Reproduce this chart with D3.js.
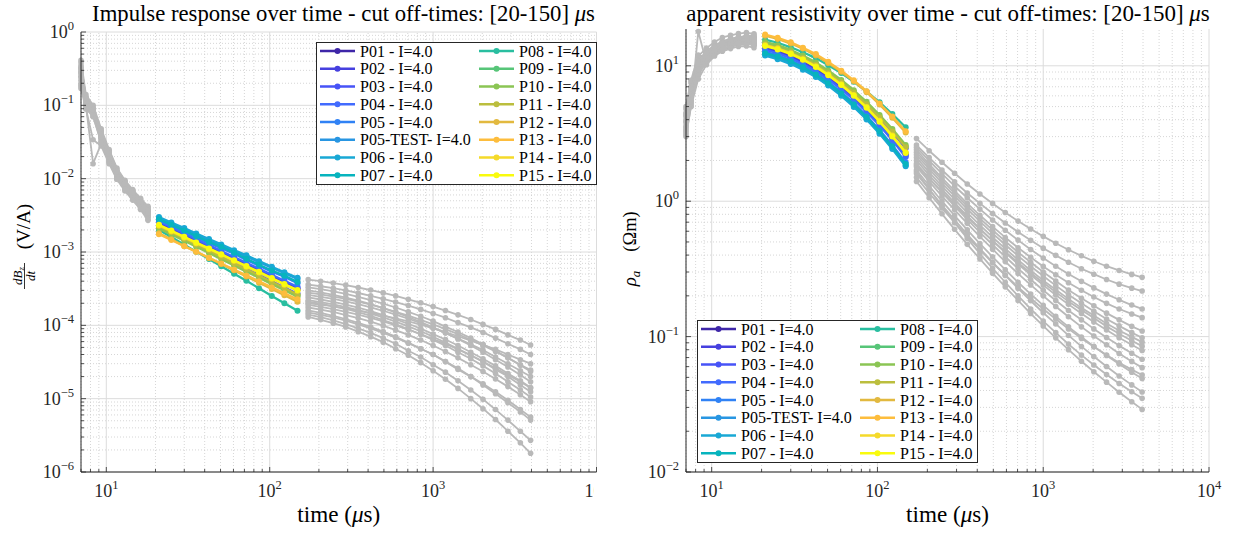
<!DOCTYPE html>
<html>
<head>
<meta charset="utf-8">
<script src="https://cdn.jsdelivr.net/npm/d3@7"></script>
<style>
  body { margin: 0; background: #fff; }
  svg { display: block; font-family: "Liberation Serif", "DejaVu Serif", serif; }
</style>
</head>
<body>
<svg id="fig" width="1233" height="534"></svg>
<script>
// TEM soundings P01..P15 - impulse response and apparent resistivity,
// coloured inside the cut-off window [20-150] us, grey outside it.

var seriesNames = ['P01 - I=4.0', 'P02 - I=4.0', 'P03 - I=4.0', 'P04 - I=4.0', 'P05 - I=4.0',
    'P05-TEST- I=4.0', 'P06 - I=4.0', 'P07 - I=4.0', 'P08 - I=4.0', 'P09 - I=4.0',
    'P10 - I=4.0', 'P11 - I=4.0', 'P12 - I=4.0', 'P13 - I=4.0', 'P14 - I=4.0', 'P15 - I=4.0'];

var palette = ['#3e26a8', '#4640df', '#4753f7', '#426bfe', '#3082f5', '#2896e2', '#19a8d5', '#07b4be',
    '#29bea0', '#57c578', '#8bc554', '#bbbe3e', '#e2b93f', '#fdbd3d', '#f5da2a', '#f9fb0e'];

// gate times (us)
var tEarly = [7, 7.5, 8.3, 9.3, 10.4, 11.6, 13, 14.5, 16.2, 18];
var tMid = [21, 25, 30, 35.5, 42.5, 50.5, 60.5, 72, 86, 103, 123, 148];
var tLate = [172, 205, 245, 292, 348, 415, 495, 590, 705, 840, 1000, 1190, 1420, 1700, 2020, 2410, 2870, 3420, 3950];

// dBz/dt (V/A), one row per sounding
var dbdtEarly = [
    [0.38, 0.12, 0.09, 0.042, 0.022, 0.0125, 0.0088, 0.0066, 0.0049, 0.0037],
    [0.25, 0.11, 0.08, 0.036, 0.019, 0.011, 0.0078, 0.0058, 0.0044, 0.0033],
    [0.33, 0.13, 0.095, 0.045, 0.024, 0.0135, 0.0092, 0.0069, 0.0052, 0.0040],
    [0.18, 0.10, 0.016, 0.030, 0.017, 0.0105, 0.0074, 0.0055, 0.0041, 0.0031],
    [0.29, 0.12, 0.085, 0.040, 0.021, 0.012, 0.0084, 0.0063, 0.0047, 0.0036],
    [0.41, 0.14, 0.10, 0.048, 0.025, 0.014, 0.0095, 0.0071, 0.0054, 0.0042],
    [0.35, 0.13, 0.09, 0.044, 0.023, 0.013, 0.009, 0.0068, 0.0051, 0.0039],
    [0.22, 0.10, 0.075, 0.034, 0.019, 0.011, 0.0079, 0.0059, 0.0044, 0.0034],
    [0.17, 0.09, 0.07, 0.032, 0.018, 0.0105, 0.0075, 0.0056, 0.0041, 0.0030],
    [0.27, 0.11, 0.08, 0.038, 0.020, 0.0115, 0.0081, 0.006, 0.0045, 0.0034],
    [0.31, 0.12, 0.083, 0.039, 0.021, 0.012, 0.0083, 0.0062, 0.0046, 0.0035],
    [0.20, 0.10, 0.078, 0.035, 0.019, 0.011, 0.0078, 0.0057, 0.0042, 0.0031],
    [0.24, 0.09, 0.034, 0.028, 0.016, 0.0098, 0.0068, 0.0051, 0.0038, 0.0027],
    [0.19, 0.095, 0.072, 0.031, 0.017, 0.010, 0.0071, 0.0053, 0.0039, 0.0028],
    [0.28, 0.115, 0.082, 0.037, 0.020, 0.0115, 0.008, 0.006, 0.0045, 0.0034],
    [0.32, 0.125, 0.088, 0.041, 0.022, 0.0125, 0.0086, 0.0064, 0.0048, 0.0037]
];
var dbdtMid = [
    [2.4e-3, 2.0e-3, 1.65e-3, 1.38e-3, 1.14e-3, 9.55e-4, 7.9e-4, 6.6e-4, 5.5e-4, 4.5e-4, 3.75e-4, 3.1e-4],
    [2.5e-3, 2.08e-3, 1.72e-3, 1.44e-3, 1.19e-3, 1.0e-3, 8.2e-4, 6.85e-4, 5.7e-4, 4.7e-4, 3.9e-4, 3.2e-4],
    [2.3e-3, 1.9e-3, 1.55e-3, 1.29e-3, 1.06e-3, 8.76e-4, 7.18e-4, 5.93e-4, 4.88e-4, 4.0e-4, 3.29e-4, 2.7e-4],
    [2.6e-3, 2.17e-3, 1.79e-3, 1.5e-3, 1.24e-3, 1.03e-3, 8.55e-4, 7.12e-4, 5.93e-4, 4.89e-4, 4.06e-4, 3.35e-4],
    [2.7e-3, 2.27e-3, 1.89e-3, 1.59e-3, 1.32e-3, 1.13e-3, 9.45e-4, 7.8e-4, 6.5e-4, 5.4e-4, 4.6e-4, 3.75e-4],
    [2.9e-3, 2.44e-3, 2.04e-3, 1.73e-3, 1.45e-3, 1.23e-3, 1.03e-3, 8.67e-4, 7.28e-4, 6.1e-4, 5.13e-4, 4.3e-4],
    [3.0e-3, 2.53e-3, 2.12e-3, 1.79e-3, 1.5e-3, 1.27e-3, 1.06e-3, 9.0e-4, 7.5e-4, 6.3e-4, 5.3e-4, 4.44e-4],
    [2.8e-3, 2.35e-3, 1.96e-3, 1.65e-3, 1.37e-3, 1.18e-3, 9.8e-4, 8.1e-4, 6.7e-4, 5.6e-4, 4.76e-4, 3.9e-4],
    [2.0e-3, 1.6e-3, 1.26e-3, 1.01e-3, 8.0e-4, 6.4e-4, 5.06e-4, 4.04e-4, 3.2e-4, 2.52e-4, 2.0e-4, 1.58e-4],
    [2.2e-3, 1.82e-3, 1.49e-3, 1.23e-3, 1.01e-3, 8.4e-4, 6.86e-4, 5.68e-4, 4.66e-4, 3.83e-4, 3.15e-4, 2.57e-4],
    [2.1e-3, 1.73e-3, 1.42e-3, 1.18e-3, 9.7e-4, 8.0e-4, 6.55e-4, 5.4e-4, 4.45e-4, 3.65e-4, 3.0e-4, 2.46e-4],
    [2.25e-3, 1.86e-3, 1.52e-3, 1.26e-3, 1.04e-3, 8.57e-4, 7.02e-4, 5.8e-4, 4.77e-4, 3.92e-4, 3.22e-4, 2.63e-4],
    [1.8e-3, 1.49e-3, 1.21e-3, 1.01e-3, 8.3e-4, 6.86e-4, 5.62e-4, 4.64e-4, 3.82e-4, 3.13e-4, 2.57e-4, 2.1e-4],
    [1.75e-3, 1.46e-3, 1.2e-3, 1.01e-3, 8.35e-4, 6.97e-4, 5.76e-4, 4.8e-4, 4.0e-4, 3.29e-4, 2.73e-4, 2.26e-4],
    [2.3e-3, 1.92e-3, 1.58e-3, 1.32e-3, 1.1e-3, 9.15e-4, 7.57e-4, 6.3e-4, 5.24e-4, 4.32e-4, 3.59e-4, 2.97e-4],
    [2.35e-3, 1.96e-3, 1.61e-3, 1.35e-3, 1.12e-3, 9.35e-4, 7.73e-4, 6.44e-4, 5.36e-4, 4.42e-4, 3.67e-4, 3.03e-4]
];
var dbdtLate = [
    [2.4e-4, 2.25e-4, 2.09e-4, 1.92e-4, 1.74e-4, 1.56e-4, 1.38e-4, 1.21e-4, 1.05e-4, 9.0e-5, 7.6e-5, 6.4e-5, 5.3e-5, 4.3e-5, 3.5e-5, 2.8e-5, 2.2e-5, 1.75e-5, 1.42e-5],
    [2.6e-4, 2.45e-4, 2.29e-4, 2.12e-4, 1.94e-4, 1.76e-4, 1.58e-4, 1.4e-4, 1.23e-4, 1.07e-4, 9.2e-5, 7.9e-5, 6.6e-5, 5.5e-5, 4.6e-5, 3.7e-5, 3.0e-5, 2.4e-5, 2.0e-5],
    [2.0e-4, 1.91e-4, 1.81e-4, 1.7e-4, 1.59e-4, 1.48e-4, 1.36e-4, 1.24e-4, 1.13e-4, 1.02e-4, 9.1e-5, 8.1e-5, 7.1e-5, 6.2e-5, 5.4e-5, 4.7e-5, 4.0e-5, 3.4e-5, 3.0e-5],
    [2.8e-4, 2.64e-4, 2.47e-4, 2.29e-4, 2.1e-4, 1.91e-4, 1.72e-4, 1.53e-4, 1.36e-4, 1.19e-4, 1.03e-4, 8.9e-5, 7.6e-5, 6.3e-5, 5.3e-5, 4.4e-5, 3.6e-5, 2.9e-5, 2.46e-5],
    [3.0e-4, 2.81e-4, 2.61e-4, 2.39e-4, 2.17e-4, 1.94e-4, 1.72e-4, 1.5e-4, 1.3e-4, 1.11e-4, 9.4e-5, 7.9e-5, 6.5e-5, 5.3e-5, 4.3e-5, 3.4e-5, 2.7e-5, 2.1e-5, 1.7e-5],
    [3.6e-4, 3.41e-4, 3.21e-4, 2.99e-4, 2.76e-4, 2.53e-4, 2.3e-4, 2.08e-4, 1.86e-4, 1.65e-4, 1.45e-4, 1.27e-4, 1.09e-4, 9.4e-5, 8.0e-5, 6.7e-5, 5.6e-5, 4.7e-5, 4.0e-5],
    [4.2e-4, 4.0e-4, 3.77e-4, 3.53e-4, 3.28e-4, 3.03e-4, 2.77e-4, 2.52e-4, 2.26e-4, 2.03e-4, 1.8e-4, 1.59e-4, 1.39e-4, 1.2e-4, 1.03e-4, 8.8e-5, 7.4e-5, 6.3e-5, 5.4e-5],
    [3.3e-4, 3.12e-4, 2.9e-4, 2.68e-4, 2.45e-4, 2.21e-4, 1.98e-4, 1.75e-4, 1.53e-4, 1.33e-4, 1.14e-4, 9.6e-5, 8.1e-5, 6.7e-5, 5.5e-5, 4.5e-5, 3.6e-5, 2.85e-5, 2.34e-5],
    [1.3e-4, 1.19e-4, 1.07e-4, 9.5e-5, 8.2e-5, 7.0e-5, 5.9e-5, 4.8e-5, 3.9e-5, 3.1e-5, 2.4e-5, 1.84e-5, 1.38e-5, 1.0e-5, 7.3e-6, 5.2e-6, 3.6e-6, 2.5e-6, 1.8e-6],
    [1.75e-4, 1.64e-4, 1.52e-4, 1.38e-4, 1.25e-4, 1.12e-4, 9.9e-5, 8.6e-5, 7.4e-5, 6.3e-5, 5.3e-5, 4.4e-5, 3.6e-5, 2.9e-5, 2.35e-5, 1.86e-5, 1.46e-5, 1.13e-5, 9.1e-6],
    [1.6e-4, 1.48e-4, 1.35e-4, 1.22e-4, 1.08e-4, 9.5e-5, 8.2e-5, 7.0e-5, 5.8e-5, 4.8e-5, 4.0e-5, 3.2e-5, 2.5e-5, 2.0e-5, 1.54e-5, 1.17e-5, 8.8e-6, 6.6e-6, 5.1e-6],
    [1.9e-4, 1.79e-4, 1.66e-4, 1.53e-4, 1.4e-4, 1.26e-4, 1.13e-4, 1.0e-4, 8.7e-5, 7.6e-5, 6.5e-5, 5.6e-5, 4.7e-5, 3.9e-5, 3.2e-5, 2.6e-5, 2.1e-5, 1.7e-5, 1.4e-5],
    [1.4e-4, 1.29e-4, 1.17e-4, 1.04e-4, 9.1e-5, 7.9e-5, 6.7e-5, 5.6e-5, 4.5e-5, 3.7e-5, 2.9e-5, 2.3e-5, 1.75e-5, 1.31e-5, 9.8e-6, 7.1e-6, 5.1e-6, 3.6e-6, 2.7e-6],
    [1.5e-4, 1.39e-4, 1.28e-4, 1.16e-4, 1.03e-4, 9.1e-5, 7.9e-5, 6.8e-5, 5.7e-5, 4.8e-5, 4.0e-5, 3.2e-5, 2.6e-5, 2.0e-5, 1.6e-5, 1.24e-5, 9.5e-6, 7.1e-6, 5.6e-6],
    [2.1e-4, 1.97e-4, 1.82e-4, 1.67e-4, 1.51e-4, 1.35e-4, 1.18e-4, 1.03e-4, 8.9e-5, 7.5e-5, 6.3e-5, 5.3e-5, 4.3e-5, 3.5e-5, 2.8e-5, 2.2e-5, 1.7e-5, 1.31e-5, 1.05e-5],
    [2.2e-4, 2.07e-4, 1.93e-4, 1.77e-4, 1.61e-4, 1.44e-4, 1.28e-4, 1.12e-4, 9.7e-5, 8.3e-5, 7.0e-5, 5.8e-5, 4.8e-5, 3.9e-5, 3.2e-5, 2.5e-5, 2.0e-5, 1.54e-5, 1.24e-5]
];

// apparent resistivity rho_a (Ohm m)
var rhoEarly = [
    [4.2, 6.0, 9.5, 11.5, 12.8, 13.8, 14.5, 15.0, 15.2, 15.0],
    [3.6, 5.5, 8.8, 11.0, 12.5, 13.5, 14.0, 14.6, 14.8, 14.5],
    [4.8, 7.5, 11.0, 12.8, 14.2, 15.2, 15.8, 16.3, 16.5, 16.0],
    [3.0, 5.0, 17.9, 10.5, 12.0, 13.0, 13.8, 14.3, 14.5, 14.3],
    [4.0, 6.2, 9.8, 12.0, 13.4, 14.4, 15.1, 15.6, 15.8, 15.5],
    [5.0, 7.8, 11.8, 13.5, 15.0, 16.2, 16.8, 17.3, 17.6, 17.2],
    [4.5, 7.0, 10.5, 12.6, 14.0, 15.0, 15.8, 16.2, 16.5, 16.2],
    [3.3, 5.2, 8.5, 10.8, 12.2, 13.2, 13.9, 14.4, 14.6, 14.2],
    [3.1, 5.0, 8.0, 10.2, 11.8, 12.8, 13.4, 13.9, 14.0, 13.6],
    [3.8, 5.8, 9.2, 11.4, 12.8, 13.8, 14.5, 14.9, 15.1, 14.8],
    [4.3, 6.5, 10.0, 12.2, 13.6, 14.6, 15.3, 15.7, 16.0, 15.7],
    [3.2, 5.3, 8.6, 10.9, 12.4, 13.4, 14.0, 14.5, 14.7, 14.3],
    [3.5, 5.6, 12.0, 11.6, 13.5, 14.8, 15.6, 16.2, 16.6, 16.8],
    [3.4, 5.4, 8.7, 11.2, 12.9, 14.1, 15.0, 15.7, 16.1, 16.3],
    [3.9, 6.0, 9.4, 11.7, 13.1, 14.1, 14.8, 15.3, 15.5, 15.2],
    [4.4, 6.8, 10.3, 12.4, 13.8, 14.8, 15.5, 16.0, 16.3, 16.0]
];
var rhoMid = [
    [13.8, 13.0, 12.0, 10.9, 9.65, 8.39, 7.09, 5.92, 4.82, 3.81, 2.97, 2.24],
    [13.4, 12.7, 11.7, 10.6, 9.37, 8.15, 6.89, 5.75, 4.68, 3.70, 2.89, 2.17],
    [14.2, 13.4, 12.4, 11.3, 10.0, 8.75, 7.45, 6.25, 5.13, 4.10, 3.23, 2.46],
    [13.1, 12.4, 11.4, 10.3, 9.16, 7.96, 6.73, 5.62, 4.57, 3.62, 2.82, 2.12],
    [12.7, 12.0, 11.0, 10.0, 8.8, 7.62, 6.4, 5.3, 4.28, 3.36, 2.59, 1.93],
    [12.1, 11.4, 10.5, 9.52, 8.39, 7.26, 6.1, 5.05, 4.08, 3.2, 2.47, 1.84],
    [11.9, 11.2, 10.3, 9.37, 8.25, 7.14, 6.0, 4.97, 4.01, 3.15, 2.43, 1.81],
    [12.4, 11.7, 10.8, 9.76, 8.59, 7.44, 6.25, 5.18, 4.18, 3.28, 2.53, 1.88],
    [15.6, 14.8, 13.7, 12.6, 11.4, 10.1, 8.85, 7.63, 6.47, 5.37, 4.4, 3.52],
    [14.6, 13.8, 12.7, 11.6, 10.3, 8.99, 7.66, 6.42, 5.27, 4.22, 3.32, 2.53],
    [15.0, 14.2, 13.1, 11.9, 10.6, 9.24, 7.87, 6.6, 5.42, 4.33, 3.41, 2.6],
    [14.4, 13.6, 12.6, 11.4, 10.2, 8.87, 7.55, 6.34, 5.2, 4.16, 3.27, 2.5],
    [16.7, 15.8, 14.6, 13.4, 11.9, 10.5, 9.03, 7.68, 6.38, 5.18, 4.14, 3.22],
    [17.0, 16.1, 14.9, 13.6, 12.2, 10.7, 9.2, 7.81, 6.49, 5.27, 4.22, 3.28],
    [14.2, 13.4, 12.4, 11.2, 9.93, 8.63, 7.3, 6.09, 4.96, 3.92, 3.06, 2.3],
    [14.0, 13.2, 12.2, 11.1, 9.79, 8.51, 7.2, 6.0, 4.89, 3.87, 3.01, 2.27]
];
var rhoLate = [
    [1.85, 1.47, 1.17, 0.942, 0.763, 0.623, 0.511, 0.423, 0.352, 0.295, 0.25, 0.213, 0.182, 0.157, 0.137, 0.119, 0.105, 0.0932, 0.085],
    [1.8, 1.4, 1.09, 0.863, 0.686, 0.548, 0.442, 0.358, 0.292, 0.241, 0.2, 0.167, 0.14, 0.118, 0.101, 0.087, 0.075, 0.0656, 0.059],
    [2.1, 1.64, 1.29, 1.03, 0.823, 0.666, 0.542, 0.446, 0.369, 0.308, 0.26, 0.222, 0.19, 0.163, 0.143, 0.125, 0.111, 0.0995, 0.091],
    [1.7, 1.3, 1.0, 0.782, 0.614, 0.486, 0.388, 0.312, 0.252, 0.206, 0.17, 0.141, 0.118, 0.0993, 0.0847, 0.0726, 0.0627, 0.0546, 0.049],
    [1.65, 1.23, 0.917, 0.694, 0.531, 0.41, 0.319, 0.252, 0.2, 0.16, 0.13, 0.107, 0.088, 0.073, 0.0617, 0.0525, 0.045, 0.0391, 0.035],
    [1.5, 1.15, 0.89, 0.696, 0.55, 0.438, 0.351, 0.285, 0.232, 0.192, 0.16, 0.135, 0.114, 0.097, 0.084, 0.073, 0.064, 0.057, 0.052],
    [1.4, 1.06, 0.807, 0.62, 0.48, 0.375, 0.294, 0.233, 0.185, 0.148, 0.12, 0.0979, 0.0801, 0.0658, 0.055, 0.0461, 0.0388, 0.033, 0.029],
    [1.6, 1.22, 0.938, 0.728, 0.569, 0.447, 0.354, 0.283, 0.227, 0.184, 0.15, 0.124, 0.102, 0.0846, 0.0712, 0.0602, 0.0512, 0.044, 0.039],
    [2.9, 2.36, 1.94, 1.61, 1.34, 1.13, 0.963, 0.826, 0.713, 0.623, 0.55, 0.489, 0.438, 0.395, 0.36, 0.331, 0.308, 0.288, 0.274],
    [2.3, 1.81, 1.43, 1.14, 0.92, 0.747, 0.612, 0.506, 0.42, 0.354, 0.3, 0.257, 0.221, 0.192, 0.169, 0.149, 0.133, 0.119, 0.11],
    [2.4, 1.88, 1.49, 1.19, 0.964, 0.787, 0.649, 0.54, 0.453, 0.385, 0.33, 0.286, 0.25, 0.22, 0.196, 0.176, 0.16, 0.147, 0.138],
    [2.2, 1.73, 1.36, 1.09, 0.875, 0.709, 0.579, 0.477, 0.395, 0.331, 0.28, 0.238, 0.204, 0.176, 0.154, 0.135, 0.12, 0.107, 0.098],
    [2.6, 2.1, 1.7, 1.39, 1.15, 0.964, 0.812, 0.691, 0.593, 0.514, 0.45, 0.398, 0.354, 0.317, 0.289, 0.264, 0.244, 0.228, 0.217],
    [2.5, 1.99, 1.6, 1.29, 1.06, 0.874, 0.726, 0.61, 0.516, 0.44, 0.38, 0.331, 0.29, 0.256, 0.229, 0.206, 0.187, 0.171, 0.16],
    [2.0, 1.56, 1.23, 0.973, 0.779, 0.628, 0.51, 0.417, 0.344, 0.286, 0.24, 0.203, 0.173, 0.148, 0.128, 0.112, 0.098, 0.087, 0.079],
    [1.9, 1.48, 1.16, 0.92, 0.734, 0.589, 0.477, 0.389, 0.318, 0.264, 0.22, 0.185, 0.156, 0.133, 0.114, 0.0985, 0.0858, 0.0753, 0.068]
];

var xDomain = [7, 1e4];

(function () {
    var svg = d3.select('#fig');
    var GREY = '#b9b9b9', INK = '#262626';

    function zipT(ts, vs) { return ts.map(function (t, k) { return [t, vs[k]]; }); }

    function fitWidth(sel, w) {
        var fs = +sel.attr('font-size');
        var cur = sel.node().getComputedTextLength();
        if (cur > 0) sel.attr('font-size', fs * w / cur);
    }

    function powLabel(g, x, y, exp, anchor) {
        var t = g.append('text').attr('x', x).attr('y', y)
            .attr('text-anchor', anchor).attr('font-size', 18).attr('fill', INK);
        t.append('tspan').text('10');
        t.append('tspan').attr('dy', -8).attr('font-size', 12.5)
            .text(exp < 0 ? '\u2212' + (-exp) : String(exp));
        return t;
    }

    function drawPanel(p) {
        var x = d3.scaleLog().domain(xDomain).range([p.x0, p.x1]);
        var y = d3.scaleLog().domain(p.yDom).range([p.y0, p.y1]);
        var g = svg.append('g');
        var isMajor = function (v) { return Math.abs(Math.log10(v) - Math.round(Math.log10(v))) < 1e-9; };

        var xt = x.ticks(), yt = y.ticks();

        // minor grid (dotted), then major grid (solid)
        var gGrid = g.append('g');
        xt.filter(function (v) { return !isMajor(v); }).forEach(function (v) {
            gGrid.append('line').attr('x1', x(v)).attr('x2', x(v)).attr('y1', p.y0).attr('y2', p.y1)
                .attr('stroke', '#cccccc').attr('stroke-width', 0.8).attr('stroke-dasharray', '1,2');
        });
        yt.filter(function (v) { return !isMajor(v); }).forEach(function (v) {
            gGrid.append('line').attr('x1', p.x0).attr('x2', p.x1).attr('y1', y(v)).attr('y2', y(v))
                .attr('stroke', '#cccccc').attr('stroke-width', 0.8).attr('stroke-dasharray', '1,2');
        });
        xt.filter(isMajor).forEach(function (v) {
            gGrid.append('line').attr('x1', x(v)).attr('x2', x(v)).attr('y1', p.y0).attr('y2', p.y1)
                .attr('stroke', '#dcdcdc').attr('stroke-width', 1);
        });
        yt.filter(isMajor).forEach(function (v) {
            gGrid.append('line').attr('x1', p.x0).attr('x2', p.x1).attr('y1', y(v)).attr('y2', y(v))
                .attr('stroke', '#dcdcdc').attr('stroke-width', 1);
        });

        // data: grey outside the window, coloured inside
        var line = d3.line().x(function (d) { return x(d[0]); }).y(function (d) { return y(d[1]); });
        var gData = g.append('g');
        function segment(pts, col, lw, r) {
            gData.append('path').datum(pts).attr('d', line).attr('fill', 'none')
                .attr('stroke', col).attr('stroke-width', lw).attr('stroke-linejoin', 'round');
            gData.append('g').selectAll('circle').data(pts).join('circle')
                .attr('cx', function (d) { return x(d[0]); }).attr('cy', function (d) { return y(d[1]); })
                .attr('r', r).attr('fill', col);
        }
        seriesNames.forEach(function (n, i) {
            segment(zipT(tEarly, p.early[i]), GREY, 1.8, 2.8);
            segment(zipT(tLate, p.late[i]), GREY, 1.8, 2.8);
        });
        seriesNames.forEach(function (n, i) {
            segment(zipT(tMid, p.mid[i]), palette[i], 2.3, 3);
        });

        // axes: left + bottom only, ticks pointing inwards
        var gAx = g.append('g').attr('stroke', INK);
        gAx.append('line').attr('x1', p.x0).attr('x2', p.x0).attr('y1', p.y0).attr('y2', p.y1).attr('stroke-width', 1);
        gAx.append('line').attr('x1', p.x0).attr('x2', p.x1).attr('y1', p.y0).attr('y2', p.y0).attr('stroke-width', 1);
        xt.forEach(function (v) {
            var len = isMajor(v) ? 5 : 3;
            gAx.append('line').attr('x1', x(v)).attr('x2', x(v)).attr('y1', p.y0).attr('y2', p.y0 - len).attr('stroke-width', 0.8);
        });
        yt.forEach(function (v) {
            var len = isMajor(v) ? 5 : 3;
            gAx.append('line').attr('x1', p.x0).attr('x2', p.x0 + len).attr('y1', y(v)).attr('y2', y(v)).attr('stroke-width', 0.8);
        });

        // tick labels
        var gLab = g.append('g');
        if (p.clipId) {
            svg.append('clipPath').attr('id', p.clipId).append('rect')
                .attr('x', 0).attr('y', 0).attr('width', p.clipX).attr('height', 534);
            gLab.attr('clip-path', 'url(#' + p.clipId + ')');
        }
        xt.filter(isMajor).forEach(function (v) {
            powLabel(gLab, x(v), p.y0 + 25, Math.round(Math.log10(v)), 'middle');
        });
        yt.filter(isMajor).forEach(function (v) {
            powLabel(gLab, p.x0 - 7, y(v) + 6, Math.round(Math.log10(v)), 'end');
        });

        // title
        var cx = (p.x0 + p.x1) / 2;
        var tt = g.append('text').attr('x', p.titleCx).attr('y', 21).attr('text-anchor', 'middle')
            .attr('font-size', 19).attr('fill', '#000');
        tt.append('tspan').text(p.title);
        tt.append('tspan').attr('font-style', 'italic').text('\u03bc');
        tt.append('tspan').text('s');
        fitWidth(tt, p.titleW);

        // x label
        var xl = g.append('text').attr('x', cx).attr('y', 522).attr('text-anchor', 'middle')
            .attr('font-size', 20).attr('fill', '#000');
        xl.append('tspan').text('time (');
        xl.append('tspan').attr('font-style', 'italic').text('\u03bc');
        xl.append('tspan').text('s)');
        fitWidth(xl, 83);

        // legend
        var lg = g.append('g');
        lg.append('rect').attr('x', p.legX + 0.5).attr('y', p.legY + 0.5).attr('width', 280).attr('height', 142)
            .attr('fill', '#fff').attr('stroke', INK).attr('stroke-width', 1);
        seriesNames.forEach(function (name, i) {
            var col = Math.floor(i / 8), row = i % 8;
            var lx = p.legX + (col ? 163 : 4);
            var ly = p.legY + 9 + row * 17.75;
            lg.append('line').attr('x1', lx).attr('x2', lx + 35).attr('y1', ly).attr('y2', ly)
                .attr('stroke', palette[i]).attr('stroke-width', 2.4);
            lg.append('circle').attr('cx', lx + 17.5).attr('cy', ly).attr('r', 3).attr('fill', palette[i]);
            lg.append('text').attr('x', lx + 40).attr('y', ly + 5.5).attr('font-size', 16)
                .attr('fill', '#000').text(name);
        });
    }

    drawPanel({
        x0: 81, x1: 596.5, y0: 472, y1: 32, yDom: [1e-6, 1],
        early: dbdtEarly, mid: dbdtMid, late: dbdtLate,
        title: 'Impulse response over time - cut off-times: [20-150] ', titleCx: 343.5, titleW: 503,
        legX: 316, legY: 42, clipId: 'clipL', clipX: 594
    });
    drawPanel({
        x0: 686, x1: 1209, y0: 472, y1: 29, yDom: [0.01, 18.7],
        early: rhoEarly, mid: rhoMid, late: rhoLate,
        title: 'apparent resistivity over time - cut off-times: [20-150] ', titleCx: 948, titleW: 524,
        legX: 697, legY: 320
    });

    // y label, left: dBz/dt (V/A)
    var yl = svg.append('g').attr('transform', 'rotate(-90)').attr('fill', '#000');
    yl.append('text').attr('x', -226.5).attr('y', 30).attr('text-anchor', 'middle').attr('font-size', 19).text('(V/A)');
    yl.append('line').attr('x1', -289).attr('x2', -263).attr('y1', 24.5).attr('y2', 24.5)
        .attr('stroke', '#000').attr('stroke-width', 0.8);
    var num = yl.append('text').attr('x', -276).attr('y', 21.5).attr('text-anchor', 'middle')
        .attr('font-size', 13).attr('font-style', 'italic');
    num.append('tspan').text('dB');
    num.append('tspan').attr('dy', 2.5).attr('font-size', 9).text('z');
    yl.append('text').attr('x', -276).attr('y', 35).attr('text-anchor', 'middle')
        .attr('font-size', 13).attr('font-style', 'italic').text('dt');

    // y label, right: rho_a (Ohm m)
    var yr = svg.append('g').attr('transform', 'rotate(-90)').attr('fill', '#000');
    var rho = yr.append('text').attr('x', -278.5).attr('y', 636).attr('text-anchor', 'middle')
        .attr('font-size', 19).attr('font-style', 'italic');
    rho.append('tspan').text('\u03c1');
    rho.append('tspan').attr('dy', 4).attr('font-size', 13).text('a');
    yr.append('text').attr('x', -231.5).attr('y', 636).attr('text-anchor', 'middle')
        .attr('font-size', 18.5).text('(\u03a9m)');
})();
</script>
</body>
</html>
